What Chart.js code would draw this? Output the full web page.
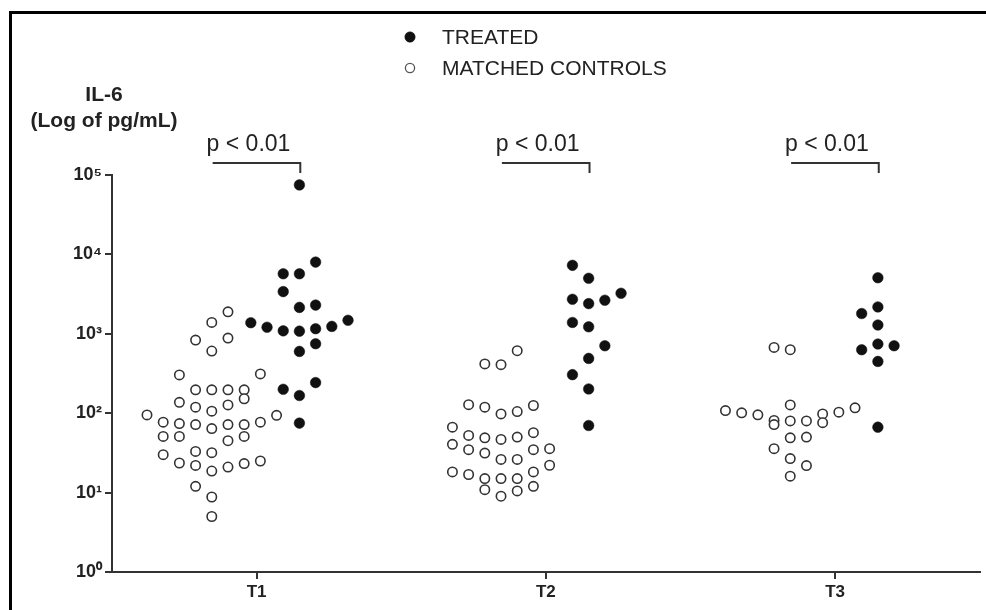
<!DOCTYPE html>
<html>
<head>
<meta charset="utf-8">
<script src="https://cdn.jsdelivr.net/npm/chart.js@4.4.1/dist/chart.umd.min.js"></script>
<style>
  html, body { margin: 0; padding: 0; background: #fff; width: 986px; height: 610px; overflow: hidden; }
  #wrap { position: relative; width: 986px; height: 610px; }
  #c { position: absolute; left: 0; top: 0; }
  #frame { position: absolute; left: 9px; top: 11px; right: 0; bottom: 0; border-left: 3px solid #000; border-top: 3px solid #000; pointer-events: none; }
</style>
</head>
<body>
<div id="wrap">
  <canvas id="c" width="986" height="610"></canvas>
  <div id="frame"></div>
</div>
<script>
// ---------------- data ----------------
const categories = ["T1", "T2", "T3"];
const yTickExponents = [0, 1, 2, 3, 4, 5];
const seriesNames = ["TREATED", "MATCHED CONTROLS"];
const pLabels = ["p < 0.01", "p < 0.01", "p < 0.01"];

// column index inside each group's dot column (beeswarm arrangement), and IL-6 values (pg/mL)
const treatedColT1 = [0, 1, -1, 0, -1, 0, 1, -3, -2, -1, 0, 1, 2, 3, 0, 1, -1, 0, 1, 0];
const treatedValT1 = [75000, 8000, 5700, 5700, 3400, 2150, 2300, 1380, 1210, 1090, 1080, 1160, 1240, 1480, 600, 750, 200, 167, 243, 75];

const controlColT1 = [1, 0, -1, 1, 0, -2, 3, -1, 0, 1, 2, -2, -1, 0, 1, 2, -4, 4, 3, -3, -2, -1, 0, 1, 2, -3, -2, 1, 2, -3, -2, -1, 0, -1, 0, 1, 2, 3, -1, 0, 0];
const controlValT1 = [1890, 1390, 834, 883, 607, 303, 312, 197, 197, 197, 197, 137, 119, 106, 127, 152, 95, 94, 77, 77, 74, 72, 64, 72, 72, 51, 51, 45, 51, 30, 23.6, 33, 31.8, 22, 18.7, 21, 23.2, 25, 12, 8.8, 5.0];

const treatedColT2 = [-1, 0, -1, 0, 1, 2, -1, 0, 1, 0, -1, 0, 0];
const treatedValT2 = [7280, 5000, 2720, 2400, 2650, 3240, 1390, 1225, 707, 490, 306, 202, 70];

const controlColT2 = [1, -1, 0, -2, -1, 0, 1, 2, -3, -2, -1, 0, 1, 2, -3, -2, -1, 0, 1, 2, 3, 3, -3, -2, -1, 0, 1, 2, -1, 0, 1, 2];
const controlValT2 = [612, 417, 408, 128, 119, 98, 105, 125, 66.7, 52.5, 49, 46.8, 50, 56.8, 40.5, 34.7, 31.5, 26.2, 26.2, 34.7, 35.7, 22.1, 18.2, 16.9, 15, 15, 15, 18.2, 10.9, 9.0, 10.5, 12];

const treatedColT3 = [0, 0, -1, 0, -1, 0, 1, 0, 0];
const treatedValT3 = [5080, 2180, 1800, 1290, 630, 743, 707, 449, 66.7];

const controlColT3 = [-1, 0, -4, -3, -2, -1, -1, 0, 0, 1, 2, 2, 3, 4, 0, 1, -1, 0, 1, 0];
const controlValT3 = [673, 630, 108, 101, 95.5, 81, 72, 127, 80, 80, 98, 76, 103, 117, 49, 50, 35.7, 26.8, 21.9, 16.1];

// ---------------- build library data ----------------
const COL_STEP = 0.056;        // width of one dot column in category units
const TREATED_CENTER = 0.148;  // treated columns sit right of the tick
const CONTROL_CENTER = -0.155; // controls sit left of the tick

function toPoints(groupIndex, cols, vals, center) {
  return vals.map((v, i) => ({ x: groupIndex + 1 + center + cols[i] * COL_STEP, y: v }));
}
const treatedPoints = [
  ...toPoints(0, treatedColT1, treatedValT1, TREATED_CENTER),
  ...toPoints(1, treatedColT2, treatedValT2, TREATED_CENTER),
  ...toPoints(2, treatedColT3, treatedValT3, TREATED_CENTER)
];
const controlPoints = [
  ...toPoints(0, controlColT1, controlValT1, CONTROL_CENTER),
  ...toPoints(1, controlColT2, controlValT2, CONTROL_CENTER),
  ...toPoints(2, controlColT3, controlValT3, CONTROL_CENTER)
];

const FONT = '"Liberation Sans", Arial, Helvetica, sans-serif';
const SUP = { "0": "\u2070", "1": "\u00B9", "2": "\u00B2", "3": "\u00B3", "4": "\u2074", "5": "\u2075" };

// ---------------- annotation plugin (titles, legend, p-values) ----------------
const decorations = {
  id: 'decorations',
  afterDraw(chart) {
    const ctx = chart.ctx;
    const xs = chart.scales.x;
    const area = chart.chartArea;
    ctx.save();

    // y-axis title
    ctx.fillStyle = '#222';
    ctx.textAlign = 'center';
    ctx.textBaseline = 'middle';
    ctx.font = 'bold 21px ' + FONT;
    ctx.fillText('IL-6', 104, 95);
    ctx.fillText('(Log of pg/mL)', 104, 121);

    // legend
    const ds = chart.data.datasets;
    const legendY = [37, 68];
    ds.forEach((d, i) => {
      ctx.beginPath();
      ctx.arc(410, legendY[i], i === 0 ? 5.2 : 4.6, 0, Math.PI * 2);
      ctx.fillStyle = d.pointBackgroundColor;
      ctx.fill();
      ctx.lineWidth = i === 0 ? 0.5 : 1.3;
      ctx.strokeStyle = i === 0 ? d.pointBorderColor : '#555';
      ctx.stroke();
      ctx.fillStyle = '#222';
      ctx.textAlign = 'left';
      ctx.textBaseline = 'middle';
      ctx.font = '21px ' + FONT;
      ctx.fillText(d.label, 442, legendY[i] + 1);
    });

    // p-value brackets
    ctx.strokeStyle = '#333';
    ctx.lineWidth = 2;
    categories.forEach((c, i) => {
      const x0 = xs.getPixelForValue(i + 1 + CONTROL_CENTER + 0.003);
      const x1 = xs.getPixelForValue(i + 1 + TREATED_CENTER + 0.003);
      const yb = area.top - 12;
      ctx.beginPath();
      ctx.moveTo(x0, yb);
      ctx.lineTo(x1, yb);
      ctx.lineTo(x1, yb + 10);
      ctx.stroke();
      ctx.fillStyle = '#222';
      ctx.textAlign = 'center';
      ctx.textBaseline = 'alphabetic';
      ctx.font = '23px ' + FONT;
      ctx.fillText(pLabels[i], (x0 + x1) / 2 - 8, area.top - 24);
    });
    ctx.restore();
  }
};

new Chart(document.getElementById('c'), {
  type: 'scatter',
  data: {
    datasets: [
      {
        label: seriesNames[0],
        data: treatedPoints,
        pointRadius: 5.3,
        pointBackgroundColor: '#111',
        pointBorderColor: '#111',
        pointBorderWidth: 0.5
      },
      {
        label: seriesNames[1],
        data: controlPoints,
        pointRadius: 4.7,
        pointBackgroundColor: '#fff',
        pointBorderColor: '#333',
        pointBorderWidth: 1.6
      }
    ]
  },
  options: {
    responsive: false,
    animation: false,
    events: [],
    layout: { padding: { left: 0, right: 5, top: 175, bottom: 0 } },
    plugins: { legend: { display: false }, tooltip: { enabled: false } },
    scales: {
      x: {
        type: 'linear',
        min: 0.5,
        max: 3.5,
        afterBuildTicks: s => { s.ticks = categories.map((c, i) => ({ value: i + 1 })); },
        afterFit: s => { s.height = 38; },
        ticks: {
          callback: v => categories[Math.round(v) - 1],
          font: { family: FONT, size: 17, weight: 'bold' },
          color: '#222',
          padding: 3,
          maxRotation: 0
        },
        grid: { display: true, drawOnChartArea: false, drawTicks: true, tickLength: 7, color: '#333', lineWidth: 2 },
        border: { display: true, color: '#333', width: 2 }
      },
      y: {
        type: 'logarithmic',
        min: 1,
        max: 100000,
        afterBuildTicks: s => { s.ticks = yTickExponents.map(e => ({ value: Math.pow(10, e) })); },
        afterFit: s => { s.width = 112; },
        ticks: {
          callback: v => '10' + SUP[String(Math.round(Math.log10(v)))],
          font: { family: FONT, size: 18, weight: 'bold' },
          color: '#222',
          padding: 3
        },
        grid: { display: true, drawOnChartArea: false, drawTicks: true, tickLength: 7, color: '#333', lineWidth: 2 },
        border: { display: true, color: '#333', width: 2 }
      }
    }
  },
  plugins: [decorations]
});
</script>
</body>
</html>
